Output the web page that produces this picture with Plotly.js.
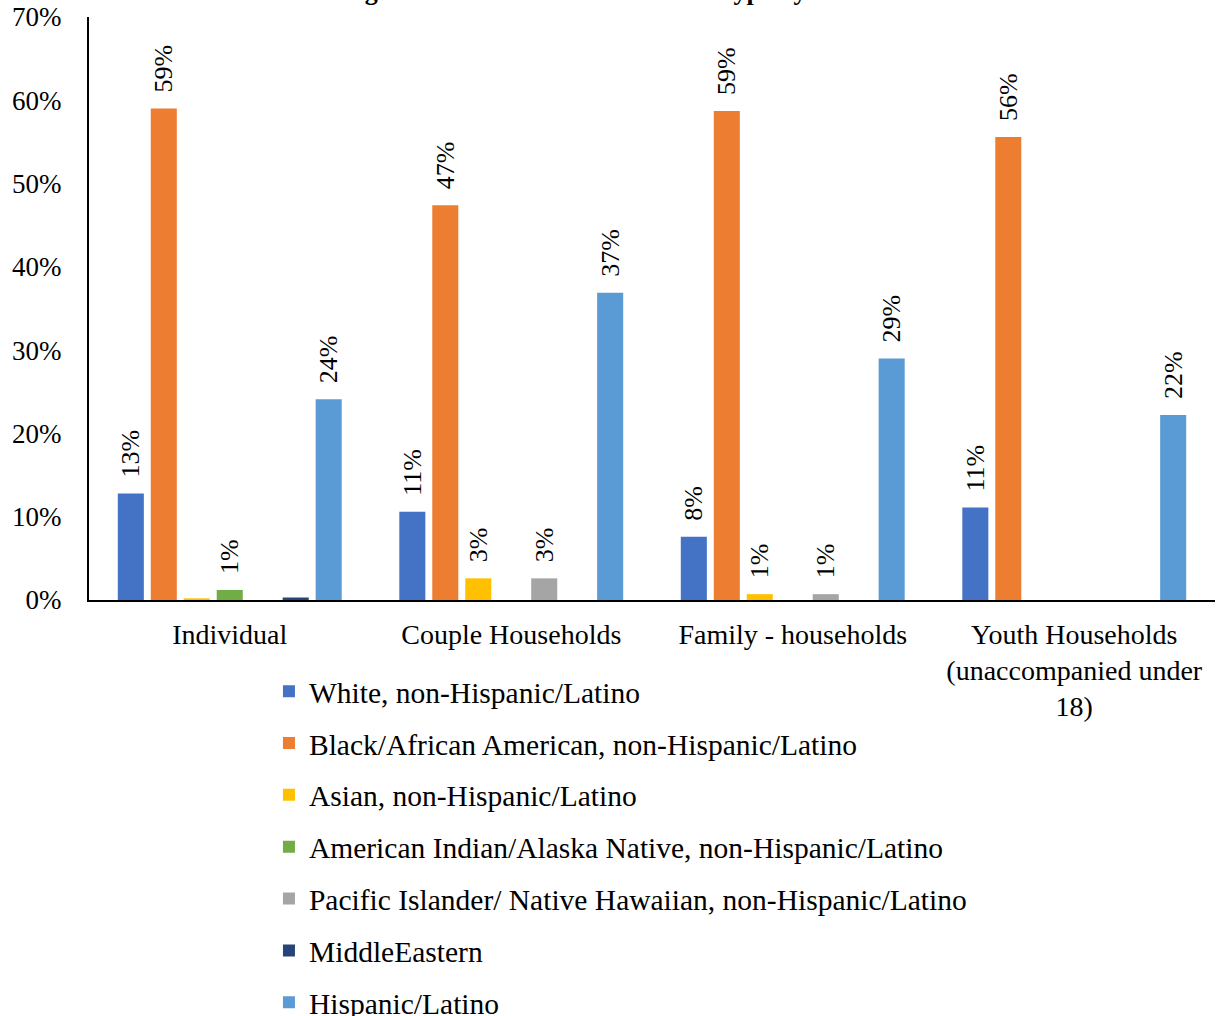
<!DOCTYPE html>
<html>
<head>
<meta charset="utf-8">
<script src="https://cdn.plot.ly/plotly-3.0.1.min.js"></script>
<style>html,body{margin:0;padding:0;background:#fff;}#chart{width:1217px;height:1016px;}</style>
</head>
<body>
<div id="chart"></div>
<script>
var categories = ["Individual", "Couple Households", "Family - households", "Youth Households<br>(unaccompanied under<br>18)"];
var seriesNames = ["White, non-Hispanic/Latino", "Black/African American, non-Hispanic/Latino", "Asian, non-Hispanic/Latino", "American Indian/Alaska Native, non-Hispanic/Latino", "Pacific Islander/ Native Hawaiian, non-Hispanic/Latino", "MiddleEastern", "Hispanic/Latino"];
var white    = [12.8, 10.6, 7.6, 11.1];
var black    = [59.0, 47.4, 58.7, 55.6];
var asian    = [0.2, 2.6, 0.7, 0];
var aian     = [1.2, 0, 0, 0];
var pacific  = [0, 2.6, 0.7, 0];
var middleE  = [0.3, 0, 0, 0];
var hispanic = [24.1, 36.9, 29.0, 22.2];
var colors = ["#4472C4", "#ED7D31", "#FFC000", "#70AD47", "#A5A5A5", "#264478", "#5B9BD5"];
var seriesValues = [white, black, asian, aian, pacific, middleE, hispanic];

var serif = "Liberation Serif, Times New Roman, serif";
var pad = "\u00A0\u00A0";
var traces = seriesValues.map(function (vals, i) {
  return {
    type: "bar",
    name: seriesNames[i],
    x: categories,
    y: vals,
    legendgroup: "g" + i,
    marker: {color: colors[i]},
    text: vals.map(function (v) { return v >= 0.5 ? pad + Math.round(v) + "%" : ""; }),
    textposition: "outside",
    textangle: -90,
    constraintext: "none",
    textfont: {family: serif, size: 26, color: "#000"},
    cliponaxis: false,
    hoverinfo: "none"
  };
});

var layout = {
  width: 1217, height: 1016,
  margin: {l: 89, r: 2, t: 17, b: 416, autoexpand: false},
  paper_bgcolor: "#fff", plot_bgcolor: "#fff",
  barmode: "group", bargap: 0.18, bargroupgap: 0.21,
  showlegend: true,
  legend: {
    orientation: "v", xref: "container", yref: "container",
    x: 0.221, y: 0.345, xanchor: "left", yanchor: "top",
    font: {family: serif, size: 29.5, color: "#000"},
    tracegroupgap: 10.5, traceorder: "grouped", bgcolor: "rgba(0,0,0,0)"
  },
  xaxis: {
    showline: true, linecolor: "#000", linewidth: 2, ticks: "", showgrid: false, tickangle: 0,
    automargin: false, ticklabelstandoff: 8,
    tickfont: {family: serif, size: 28, color: "#000"}, fixedrange: true
  },
  yaxis: {
    range: [0, 70], dtick: 10, ticksuffix: "%", showline: true, linecolor: "#000", linewidth: 2,
    ticks: "", showgrid: false, zeroline: false, automargin: false, ticklabelstandoff: 20,
    tickfont: {family: serif, size: 27, color: "#000"}, fixedrange: true
  },
  annotations: [{
    text: "<b>Percentage of Clients in each Household Type by Race</b>",
    xref: "paper", yref: "paper", x: 0.156, y: 1.0154, xanchor: "left", yanchor: "bottom",
    showarrow: false, font: {family: serif, size: 26, color: "#000"}
  }]
};

Plotly.newPlot("chart", traces, layout, {displayModeBar: false, staticPlot: true});
</script>
</body>
</html>
